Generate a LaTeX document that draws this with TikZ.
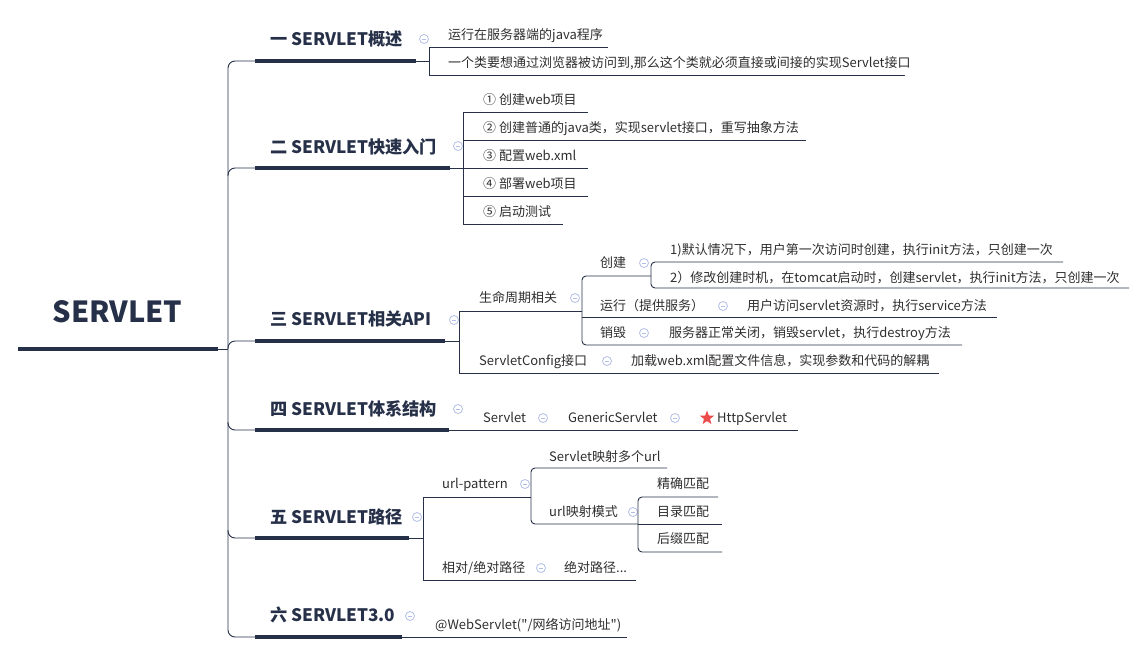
\documentclass[tikz,border=0pt]{standalone}
\usepackage{fontspec}
\setmainfont{Noto Sans CJK SC}[Ligatures=TeXOff]
\usetikzlibrary{shapes.geometric}
\definecolor{navy}{HTML}{263048}
\definecolor{leafgray}{HTML}{2E2E2E}
\definecolor{foldblue}{HTML}{B3BEE6}
\definecolor{starred}{HTML}{EC4B4B}
\begin{document}
\begin{tikzpicture}[x=1pt,y=-1pt,
  branch/.style={draw=navy, line width=0.9pt},
  thickbranch/.style={draw=navy, line width=4pt},
  leaf/.style={anchor=west, inner sep=0pt, text=leafgray, text height=11.5pt, text depth=1.7pt,
    font=\fontsize{13pt}{15pt}\selectfont},
  topic/.style={anchor=west, inner sep=0pt, text=navy, text height=15pt, text depth=1.7pt,
    font=\fontsize{17.2pt}{20pt}\selectfont\bfseries},
  rootnode/.style={anchor=base, inner sep=0pt, text=navy, font=\fontsize{29pt}{33pt}\selectfont\bfseries},
  fold/.style={circle, draw=foldblue, line width=0.8pt, minimum size=9pt, inner sep=0pt,
    path picture={\draw[foldblue, line width=0.8pt] ([xshift=-2.2pt]path picture bounding box.center)
      -- ([xshift=2.2pt]path picture bounding box.center);}},
]
\useasboundingbox (0,0) rectangle (1146,654);

% root and trunk
\node[rootnode] (root) at (117.5,322) {SERVLET};
\draw[thickbranch] (18,349) -- (218,349);
\draw[branch] (218,349) -- (228,349);
\draw[branch, rounded corners=7pt] (255,61) -- (228,61) -- (228,637) -- (255,637);
\draw[branch, rounded corners=7pt] (228,176) |- (255,168);
\draw[branch, rounded corners=7pt] (228,349) |- (255,341);
\draw[branch, rounded corners=7pt] (228,422) |- (255,430);
\draw[branch, rounded corners=7pt] (228,530) |- (255,538);

% sections
\node[topic] (t1) at (270,39) {一 SERVLET概述};
\node[topic] (t2) at (270,147) {二 SERVLET快速入门};
\node[topic] (t3) at (270,319) {三 SERVLET相关API};
\node[topic] (t4) at (270,409) {四 SERVLET体系结构};
\node[topic] (t5) at (270,517) {五 SERVLET路径};
\node[topic] (t6) at (270,615) {六 SERVLET3.0};
\draw[thickbranch] (255,61) -- (416,61);
\draw[thickbranch] (255,168) -- (450,168);
\draw[thickbranch] (255,341) -- (445,341);
\draw[thickbranch] (255,430) -- (449,430);
\draw[thickbranch] (255,538) -- (409,538);
\draw[thickbranch] (255,637) -- (402,637);
\node[fold] (f1) at (424,39) {};
\node[fold] (f2) at (458,146) {};
\node[fold] (f3) at (454,320) {};
\node[fold] (f4) at (458,409) {};
\node[fold] (f5) at (417,517) {};
\node[fold] (f6) at (410,616) {};

% 一
\draw[branch] (416,61) -- (429,61);
\draw[branch] (608,47) -- (429,47) -- (429,75) -- (905,75);
\node[leaf] (a1) at (448,35) {运行在服务器端的java程序};
\node[leaf] (a2) at (448,63) {一个类要想通过浏览器被访问到,那么这个类就必须直接或间接的实现Servlet接口};

% 二
\draw[branch] (450,168) -- (463,168);
\draw[branch] (588,112) -- (463,112) -- (463,224) -- (563,224);
\draw[branch] (463,140) -- (806,140);
\draw[branch] (463,168) -- (588,168);
\draw[branch] (463,196) -- (588,196);
\node[leaf] (b1) at (483,100) {① 创建web项目};
\node[leaf] (b2) at (483,128) {② 创建普通的java类，实现servlet接口，重写抽象方法};
\node[leaf] (b3) at (483,156) {③ 配置web.xml};
\node[leaf] (b4) at (483,184) {④ 部署web项目};
\node[leaf] (b5) at (483,212) {⑤ 启动测试};

% 三
\draw[branch] (445,341) -- (459,341);
\draw[branch] (582,311) -- (459,311) -- (459,373) -- (939,373);
\node[leaf] (life) at (479,298) {生命周期相关};
\node[fold] (flife) at (575,298) {};
\draw[branch, rounded corners=4pt] (651,276) -- (582,276) -- (582,345) -- (962,345);
\draw[branch] (582,317) -- (997,317);
\node[leaf] (create) at (600,263) {创建};
\node[fold] (fcreate) at (644,263) {};
\draw[branch, rounded corners=4pt] (1063,262) -- (651,262) -- (651,288) -- (1129,288);
\node[leaf] (create1) at (670,250) {1)默认情况下，用户第一次访问时创建，执行init方法，只创建一次};
\node[leaf] (create2) at (670,278) {2）修改创建时机，在tomcat启动时，创建servlet，执行init方法，只创建一次};
\node[leaf] (run) at (600,306) {运行（提供服务）};
\node[fold] (frun) at (723,306) {};
\node[leaf] (run1) at (747,306) {用户访问servlet资源时，执行service方法};
\node[leaf] (destroy) at (600,333) {销毁};
\node[fold] (fdestroy) at (644,333) {};
\node[leaf] (destroy1) at (669,333) {服务器正常关闭，销毁servlet，执行destroy方法};
\node[leaf] (config) at (479,361) {ServletConfig接口};
\node[fold] (fconfig) at (607,361) {};
\node[leaf] (config1) at (631,361) {加载web.xml配置文件信息，实现参数和代码的解耦};

% 四
\draw[branch] (449,430) -- (798,430);
\node[leaf] (servlet) at (483,418) {Servlet};
\node[fold] (fservlet) at (543,418) {};
\node[leaf] (generic) at (568,418) {GenericServlet};
\node[fold] (fgeneric) at (675,418) {};
\node[star, star points=5, star point ratio=2.4, fill=starred, inner sep=0pt, minimum size=15pt] (mark) at (707,418) {};
\node[leaf] (http) at (717,418) {HttpServlet};

% 五
\draw[branch] (409,538) -- (423,538);
\draw[branch] (531,497) -- (423,497) -- (423,580) -- (636,580);
\node[leaf] (pattern) at (442,484) {url-pattern};
\node[fold] (fpattern) at (525,484) {};
\draw[branch, rounded corners=4pt] (667,468) -- (531,468) -- (531,524) -- (638,524);
\node[leaf] (multi) at (549,457) {Servlet映射多个url};
\node[leaf] (mode) at (549,512) {url映射模式};
\node[fold] (fmode) at (633,512) {};
\draw[branch, rounded corners=4pt] (718,497) -- (638,497) -- (638,552) -- (722,552);
\draw[branch] (638,524) -- (722,524);
\node[leaf] (exact) at (657,484) {精确匹配};
\node[leaf] (dir) at (657,512) {目录匹配};
\node[leaf] (suffix) at (657,539) {后缀匹配};
\node[leaf] (path) at (442,568) {相对/绝对路径};
\node[fold] (fpath) at (541,568) {};
\node[leaf] (abs) at (564,568) {绝对路径...};

% 六
\draw[branch] (402,637) -- (627,637);
\node[leaf] (anno) at (435,625) {@WebServlet("/网络访问地址")};

\end{tikzpicture}
\end{document}
